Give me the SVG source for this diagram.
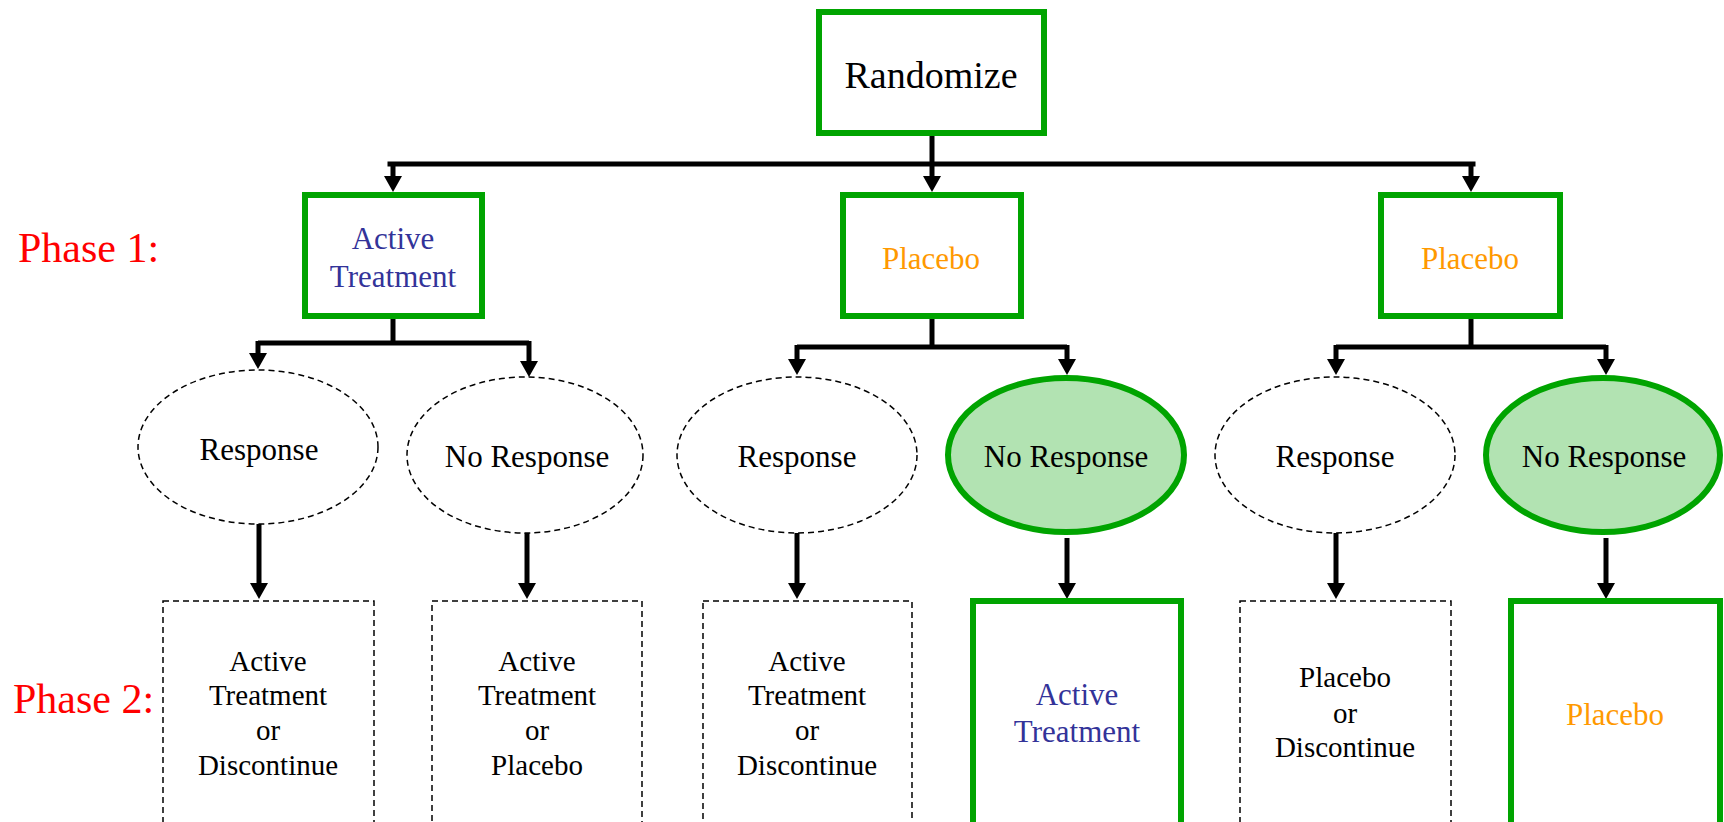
<svg xmlns="http://www.w3.org/2000/svg" width="1724" height="822" viewBox="0 0 1724 822">
<style>
text{font-family:"Liberation Serif","Times New Roman",serif;text-anchor:middle}
.gbox{fill:#fff;stroke:#00a400;stroke-width:6}
.gell{fill:#b2e3b2;stroke:#00a400;stroke-width:6}
.dell{fill:#fff;stroke:#000;stroke-width:1.5;stroke-dasharray:6 4}
.dbox{fill:#fff;stroke:#000;stroke-width:1.5;stroke-dasharray:6 4}
.conn{fill:none;stroke:#000;stroke-width:5}
.arr{marker-end:url(#ah)}
.blk{fill:#000;font-size:29px}
.ell{fill:#000;font-size:31px}
.blue{fill:#333399;font-size:31px}
.orng{fill:#ff9900;font-size:31px}
.phase{fill:#ff0000;font-size:42px;text-anchor:start}
</style>
<defs>
<marker id="ah" markerUnits="userSpaceOnUse" markerWidth="18" markerHeight="18" refX="6" refY="9" orient="auto">
<path d="M0,0 L16,9 L0,18 z" fill="#000"/>
</marker>
</defs>
<rect width="1724" height="822" fill="#fff"/>
<g id="labels">
<text class="phase" x="18" y="262">Phase 1:</text>
<text class="phase" x="13" y="713">Phase 2:</text>
</g>
<g id="connectors">
<path class="conn" d="M932,136 V164"/>
<path class="conn" d="M390,164 H1473" stroke-linecap="square"/>
<path class="conn arr" d="M393,164 V182"/>
<path class="conn arr" d="M932,164 V182"/>
<path class="conn arr" d="M1471,164 V182"/>
<path class="conn" d="M393,319 V343"/>
<path class="conn" d="M258,343 H529"/>
<path class="conn arr" d="M258,341 V359"/>
<path class="conn arr" d="M529,341 V367"/>
<path class="conn" d="M932,319 V347"/>
<path class="conn" d="M797,347 H1067"/>
<path class="conn arr" d="M797,345 V365"/>
<path class="conn arr" d="M1067,345 V365"/>
<path class="conn" d="M1471,319 V347"/>
<path class="conn" d="M1336,347 H1606"/>
<path class="conn arr" d="M1336,345 V365"/>
<path class="conn arr" d="M1606,345 V365"/>
<path class="conn arr" d="M259,524 V589"/>
<path class="conn arr" d="M527,533 V589"/>
<path class="conn arr" d="M797,533 V589"/>
<path class="conn arr" d="M1067,538 V589"/>
<path class="conn arr" d="M1336,533 V589"/>
<path class="conn arr" d="M1606,538 V589"/>
</g>
<g id="randomize">
<rect class="gbox" x="819" y="12" width="225" height="121"/>
<text class="blk" x="931" y="88" style="font-size:38px">Randomize</text>
</g>
<g id="p1-active">
<rect class="gbox" x="305" y="195" width="177" height="121"/>
<text class="blue" x="393" y="249">Active</text>
<text class="blue" x="393" y="287">Treatment</text>
</g>
<g id="p1-placebo-mid">
<rect class="gbox" x="843" y="195" width="178" height="121"/>
<text class="orng" x="931" y="269">Placebo</text>
</g>
<g id="p1-placebo-right">
<rect class="gbox" x="1381" y="195" width="179" height="121"/>
<text class="orng" x="1470" y="269">Placebo</text>
</g>
<g id="resp1">
<ellipse class="dell" cx="258" cy="447" rx="120" ry="77"/>
<text class="ell" x="259" y="460">Response</text>
</g>
<g id="noresp1">
<ellipse class="dell" cx="525" cy="455" rx="118" ry="78"/>
<text class="ell" x="527" y="467">No Response</text>
</g>
<g id="resp2">
<ellipse class="dell" cx="797" cy="455" rx="120" ry="78"/>
<text class="ell" x="797" y="467">Response</text>
</g>
<g id="noresp2">
<ellipse class="gell" cx="1066" cy="455" rx="118" ry="77"/>
<text class="ell" x="1066" y="467">No Response</text>
</g>
<g id="resp3">
<ellipse class="dell" cx="1335" cy="455" rx="120" ry="78"/>
<text class="ell" x="1335" y="467">Response</text>
</g>
<g id="noresp3">
<ellipse class="gell" cx="1603" cy="455" rx="117" ry="77"/>
<text class="ell" x="1604" y="467">No Response</text>
</g>
<g id="p2-box1">
<rect class="dbox" x="163" y="601" width="211" height="240"/>
<text class="blk" x="268" y="671">Active</text>
<text class="blk" x="268" y="705">Treatment</text>
<text class="blk" x="268" y="740">or</text>
<text class="blk" x="268" y="775">Discontinue</text>
</g>
<g id="p2-box2">
<rect class="dbox" x="432" y="601" width="210" height="240"/>
<text class="blk" x="537" y="671">Active</text>
<text class="blk" x="537" y="705">Treatment</text>
<text class="blk" x="537" y="740">or</text>
<text class="blk" x="537" y="775">Placebo</text>
</g>
<g id="p2-box3">
<rect class="dbox" x="703" y="601" width="209" height="240"/>
<text class="blk" x="807" y="671">Active</text>
<text class="blk" x="807" y="705">Treatment</text>
<text class="blk" x="807" y="740">or</text>
<text class="blk" x="807" y="775">Discontinue</text>
</g>
<g id="p2-box4">
<rect class="gbox" x="973" y="601" width="208" height="240"/>
<text class="blue" x="1077" y="705">Active</text>
<text class="blue" x="1077" y="742">Treatment</text>
</g>
<g id="p2-box5">
<rect class="dbox" x="1240" y="601" width="211" height="240"/>
<text class="blk" x="1345" y="687">Placebo</text>
<text class="blk" x="1345" y="723">or</text>
<text class="blk" x="1345" y="757">Discontinue</text>
</g>
<g id="p2-box6">
<rect class="gbox" x="1511" y="601" width="209" height="240"/>
<text class="orng" x="1615" y="725">Placebo</text>
</g>
</svg>
